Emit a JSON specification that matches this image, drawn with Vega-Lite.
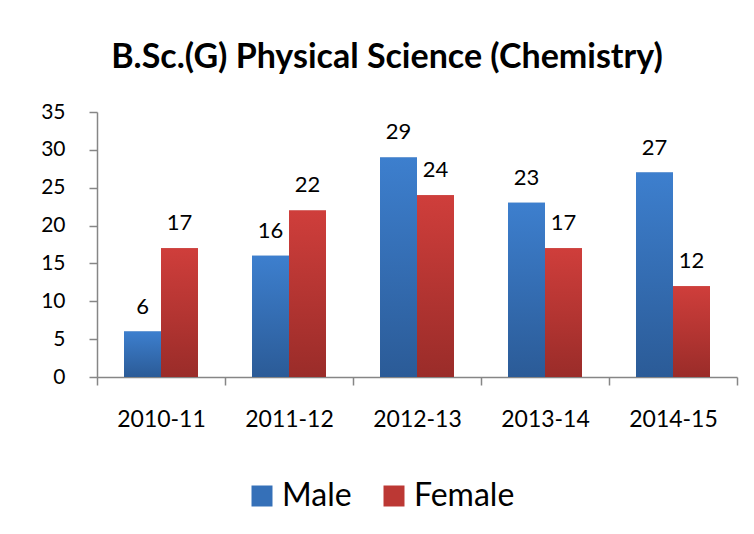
{
  "$schema": "https://vega.github.io/schema/vega-lite/v6.json",
  "width": 640,
  "height": 265,
  "autosize": "none",
  "padding": {"left": 97, "top": 112, "right": 17, "bottom": 157},
  "background": "white",
  "config": {
    "view": {"stroke": null},
    "font": "Lato"
  },
  "title": {
    "text": "B.Sc.(G) Physical Science (Chemistry)",
    "font": "Lato",
    "fontSize": 34,
    "fontWeight": "bold",
    "color": "black",
    "anchor": "middle",
    "dx": -30,
    "offset": 26
  },
  "data": {
    "values": [
      {"year": "2010-11", "series": "Male", "value": 6},
      {"year": "2010-11", "series": "Female", "value": 17},
      {"year": "2011-12", "series": "Male", "value": 16},
      {"year": "2011-12", "series": "Female", "value": 22},
      {"year": "2012-13", "series": "Male", "value": 29},
      {"year": "2012-13", "series": "Female", "value": 24},
      {"year": "2013-14", "series": "Male", "value": 23},
      {"year": "2013-14", "series": "Female", "value": 17},
      {"year": "2014-15", "series": "Male", "value": 27},
      {"year": "2014-15", "series": "Female", "value": 12}
    ]
  },
  "encoding": {
    "x": {
      "field": "year",
      "type": "nominal",
      "scale": {"paddingInner": 0, "paddingOuter": 0},
      "axis": {
        "title": null,
        "labelAngle": 0,
        "labelFontSize": 23,
        "labelColor": "black",
        "labelPadding": 23,
        "tickBand": "extent",
        "tickSize": 8,
        "tickColor": "#868686",
        "domainColor": "#868686",
        "tickWidth": 1.5,
        "domainWidth": 1.5
      }
    },
    "xOffset": {
      "field": "series",
      "type": "nominal",
      "sort": ["Male", "Female"],
      "scale": {"domain": ["Male", "Female"], "paddingInner": 0, "paddingOuter": 0.73}
    },
    "y": {
      "field": "value",
      "type": "quantitative",
      "scale": {"domain": [0, 35]},
      "axis": {
        "title": null,
        "values": [0, 5, 10, 15, 20, 25, 30, 35],
        "grid": false,
        "labelFontSize": 21,
        "labelColor": "black",
        "labelPadding": 24,
        "tickSize": 8,
        "tickColor": "#868686",
        "domainColor": "#868686",
        "tickWidth": 1.5,
        "domainWidth": 1.5
      }
    }
  },
  "layer": [
    {
      "mark": {"type": "bar"},
      "encoding": {
        "color": {
          "field": "series",
          "type": "nominal",
          "sort": ["Male", "Female"],
          "scale": {
            "domain": ["Male", "Female"],
            "range": ["#3570B8", "#BC3834"]
          },
          "legend": {
            "title": null,
            "orient": "none",
            "direction": "horizontal",
            "legendX": 149,
            "legendY": 368,
            "symbolType": "square",
            "symbolSize": 441,
            "symbolStrokeWidth": 0,
            "symbolOpacity": 1,
            "labelFontSize": 32,
            "labelColor": "black",
            "labelOffset": 4,
            "columnPadding": 26
          }
        }
      }
    },
    {
      "transform": [{"filter": "datum.series === 'Male'"}],
      "mark": {
        "type": "bar",
        "fill": {"gradient": "linear", "x1": 0, "y1": 0, "x2": 0, "y2": 1, "stops": [{"offset": 0, "color": "#3D7FCE"}, {"offset": 1, "color": "#2B5B97"}]}
      },
      "encoding": {}
    },
    {
      "transform": [{"filter": "datum.series === 'Female'"}],
      "mark": {
        "type": "bar",
        "fill": {"gradient": "linear", "x1": 0, "y1": 0, "x2": 0, "y2": 1, "stops": [{"offset": 0, "color": "#CF3E3B"}, {"offset": 1, "color": "#9A2C29"}]}
      },
      "encoding": {}
    },
    {
      "mark": {"type": "text", "baseline": "alphabetic", "dy": -18, "fontSize": 22, "color": "black"},
      "encoding": {
        "text": {"field": "value", "type": "quantitative"}
      }
    }
  ]
}
